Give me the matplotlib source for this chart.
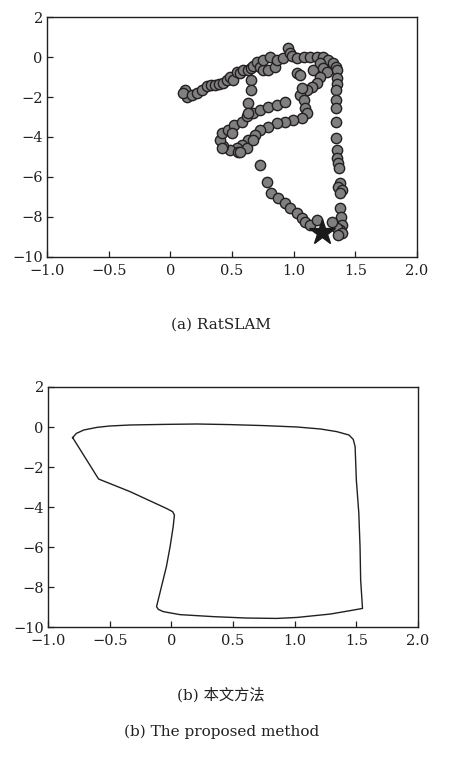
import numpy as np
import matplotlib
matplotlib.use("Agg")
import matplotlib.pyplot as plt

# (a) RatSLAM experience map points
rat_x = [0.12, 0.135, 0.10, 0.175, 0.22, 0.26, 0.30, 0.33, 0.36, 0.395, 0.43, 0.46, 0.48, 0.51,
         0.54, 0.565, 0.59, 0.63, 0.65, 0.67, 0.70, 0.73, 0.75, 0.79, 0.85,
         0.75, 0.81, 0.865, 0.91, 0.955, 0.97, 0.99, 1.03, 1.08, 1.13, 1.19, 1.24, 1.28, 1.32, 1.34,
         1.35, 1.35,
         1.35, 1.34, 1.34, 1.34, 1.34, 1.34, 1.35, 1.35, 1.36, 1.37, 1.375, 1.36, 1.39, 1.375,
         1.375, 1.38, 1.39, 1.375, 1.35, 1.31, 1.39, 1.36,
         0.73, 0.78, 0.82, 0.87, 0.93, 0.97, 1.03, 1.07, 1.09, 1.13, 1.19,
         1.03, 1.05, 1.16, 1.21, 1.24, 1.27, 1.21, 1.19, 1.15, 1.11, 1.05, 1.07, 1.08, 1.09, 1.11,
         1.07, 0.995, 0.93, 0.865, 0.79, 0.73, 0.69, 0.63, 0.58, 0.54, 0.48, 0.43, 0.40, 0.42,
         0.47, 0.52, 0.58, 0.62, 0.67, 0.73, 0.79, 0.865, 0.93,
         0.42, 0.55, 0.62, 0.67, 0.565, 0.50,
         0.65, 0.65, 0.63, 0.63]
rat_y = [-1.65, -2.0, -1.8, -1.9, -1.8, -1.65, -1.45, -1.4, -1.4, -1.35, -1.3, -1.15, -1.0, -1.15,
         -0.75, -0.8, -0.65, -0.65, -0.55, -0.45, -0.25, -0.5, -0.65, -0.65, -0.5,
         -0.15, 0.0, -0.15, -0.05, 0.45, 0.2, 0.05, -0.05, 0.0, 0.0, 0.0, 0.0, -0.15, -0.3, -0.5,
         -0.65, -1.05,
         -1.35, -1.65, -2.15, -2.55, -3.25, -4.05, -4.65, -5.05, -5.3, -5.55, -6.3, -6.5, -6.65, -6.8,
         -7.55, -8.0, -8.4, -8.65, -8.55, -8.25, -8.8, -8.9,
         -5.4, -6.25, -6.8, -7.05, -7.3, -7.55, -7.8, -8.05, -8.25, -8.4, -8.15,
         -0.8, -0.9, -0.65, -0.3, -0.55, -0.75, -1.0, -1.3, -1.5, -1.65, -1.9, -1.55, -2.15, -2.55, -2.8,
         -3.05, -3.15, -3.25, -3.3, -3.5, -3.65, -3.9, -4.15, -4.4, -4.55, -4.65, -4.45, -4.15, -3.8,
         -3.65, -3.4, -3.25, -2.95, -2.8, -2.65, -2.5, -2.4, -2.25,
         -4.55, -4.75, -4.55, -4.15, -4.75, -3.8,
         -1.15, -1.65, -2.3, -2.8]
start_x = [1.23]
start_y = [-8.75]

# (b) proposed method trajectory
our_x = [-0.80, -0.77, -0.71, -0.605, -0.50, -0.335, -0.065, 0.21, 0.475, 0.75, 1.02, 1.21, 1.34,
         1.44, 1.475, 1.49, 1.50, 1.52, 1.53, 1.535, 1.55, 1.45, 1.29, 1.02, 0.855, 0.61, 0.34,
         0.07, -0.065, -0.105, -0.12, -0.08, -0.04, -0.01, 0.015, 0.025, 0.01, -0.04, -0.335,
         -0.59, -0.80]
our_y = [-0.53, -0.32, -0.15, -0.02, 0.05, 0.10, 0.13, 0.15, 0.12, 0.07, 0.0, -0.10, -0.23,
         -0.40, -0.62, -0.98, -2.65, -4.3, -6.0, -7.65, -9.07, -9.18, -9.35, -9.52, -9.57, -9.55,
         -9.48, -9.38, -9.23, -9.12, -8.98, -7.98, -6.98, -5.98, -4.98, -4.4, -4.23, -4.07, -3.23,
         -2.6, -0.53]

xticks = [-1.0, -0.5, 0.0, 0.5, 1.0, 1.5, 2.0]
xlabels = ["\u22121.0", "\u22120.5", "0", "0.5", "1.0", "1.5", "2.0"]
yticks = [2, 0, -2, -4, -6, -8, -10]
ylabels = ["2", "0", "\u22122", "\u22124", "\u22126", "\u22128", "\u221210"]

ink = "#231f20"
plt.rcParams["font.family"] = ["DejaVu Serif", "Noto Sans CJK SC"]

fig = plt.figure(figsize=(4.71, 7.63), dpi=100)


def style(ax):
    ax.set_xlim(-1.0, 2.0)
    ax.set_ylim(-10, 2)
    ax.set_xticks(xticks)
    ax.set_xticklabels(xlabels)
    ax.set_yticks(yticks)
    ax.set_yticklabels(ylabels)
    ax.tick_params(direction="in", length=4, width=0.9, labelsize=10.5,
                   colors=ink, top=False, right=False)
    ax.tick_params(axis="x", pad=5)
    ax.tick_params(axis="y", pad=3)
    for s in ax.spines.values():
        s.set_linewidth(1.0)
        s.set_color(ink)


ax1 = fig.add_axes([0.0998, 0.6632, 0.7856, 0.3145])
ax1.scatter(rat_x, rat_y, s=55, c="#808080", edgecolors=ink, linewidths=1.0, zorder=2)
ax1.plot(start_x, start_y, marker="*", markersize=19, color="#1a1a1a", linestyle="none", zorder=3)
style(ax1)

ax2 = fig.add_axes([0.1019, 0.1782, 0.7856, 0.3146])
ax2.plot(our_x, our_y, color=ink, linewidth=1.0)
style(ax2)

fig.text(0.469, 0.574, "(a) RatSLAM", ha="center", va="center", fontsize=11, color=ink)
fig.text(0.468, 0.089, "(b) 本文方法", ha="center", va="center", fontsize=11, color=ink)
fig.text(0.471, 0.0406, "(b) The proposed method", ha="center", va="center", fontsize=11, color=ink)

fig.savefig("out.png", dpi=100)
